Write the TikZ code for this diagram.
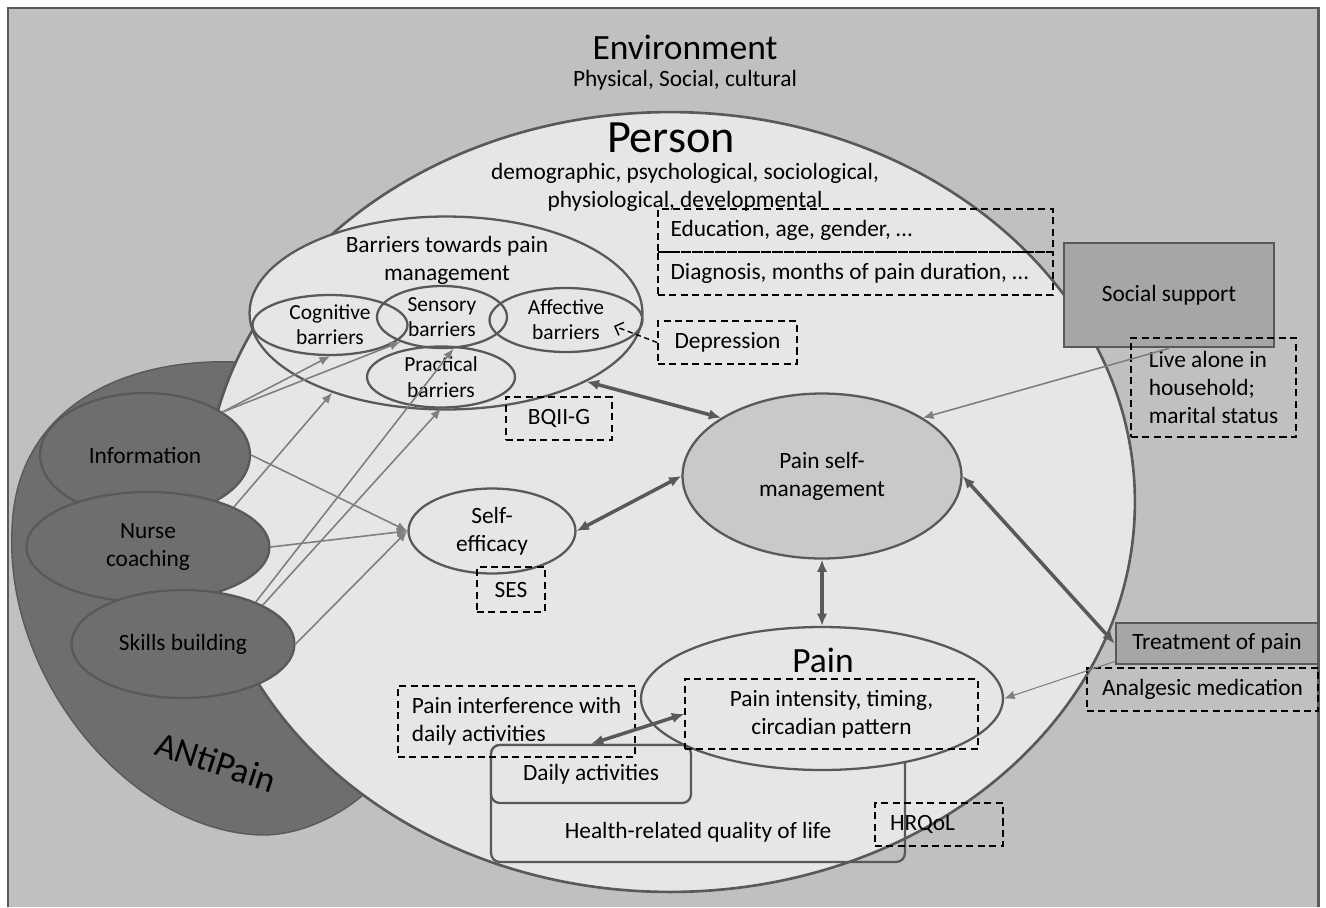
\documentclass[tikz,border=0pt]{standalone}
\usepackage{fontspec}
\setmainfont{Carlito}
\usepackage{xcolor}
\usepackage{tikz}
\usetikzlibrary{
  arrows.meta,
  positioning,
  shapes.geometric,
}

\definecolor{envgray}{HTML}{C0C0C0}
\definecolor{persongray}{HTML}{E6E6E6}
\definecolor{edgegray}{HTML}{595959}
\definecolor{antigray}{HTML}{6E6E6E}
\definecolor{psmgray}{HTML}{C9C9C9}
\definecolor{boxgray}{HTML}{A6A6A6}
\definecolor{arrowgray}{HTML}{7F7F7F}

\begin{document}
\begin{tikzpicture}[
  x=0.02cm, y=-0.02cm,
  font=\fontsize{13.3}{16}\selectfont,
  every node/.style={align=center},
  oval/.style={ellipse, draw=edgegray, line width=1.3pt, inner sep=0pt},
  dashbox/.style={draw=black, line width=0.9pt, dash pattern=on 4pt off 2.5pt, inner sep=0pt},
  solidbox/.style={draw=edgegray, line width=1.6pt, fill=boxgray, inner sep=0pt},
  roundbox/.style={draw=edgegray, line width=1.3pt, rounded corners=5pt, inner sep=0pt},
  thinarrow/.style={arrowgray, line width=0.9pt, -{Latex[length=6pt,width=5pt]}},
  bothway/.style={edgegray, line width=2pt, {Latex[length=7pt,width=6pt]}-{Latex[length=7pt,width=6pt]}},
  smallfont/.style={font=\fontsize{12.2}{14.4}\selectfont},
]

\fill[white] (0,0) rectangle (1326,907);
\useasboundingbox (0,0) rectangle (1326,907);
\fill[envgray] (8,8) rectangle (1318,907);
\draw[edgegray, line width=1.7pt] (8,907) -- (8,8) -- (1318,8) -- (1318,907);

\filldraw[fill=antigray, draw=edgegray, line width=0.8pt]
  (235,362) .. controls (120,358) and (15,410) .. (12,530)
  .. controls (5,680) and (130,830) .. (260,835)
  .. controls (300,836) and (340,815) .. (363,795) -- (450,500) -- cycle;

\node[oval, line width=1.5pt, fill=persongray, minimum width=18.6cm, minimum height=15.6cm] (person) at (670,502) {};

\node[font=\fontsize{20.2}{24}\selectfont] (env) at (685,47) {Environment};
\node (envsub) at (685,80) {Physical, Social, cultural};
\node[font=\fontsize{26.3}{30}\selectfont] (persontitle) at (671,138) {Person};
\node (personsub) at (685,187) {demographic, psychological, sociological,\\physiological, developmental};

\node[oval, fill=persongray, minimum width=7.86cm, minimum height=3.86cm] (barriers) at (446,313) {};
\node (barrierstitle) at (447,260) {Barriers towards pain\\management};
\node[oval, smallfont, minimum width=3.1cm, minimum height=1.2cm] (cognitive) at (330,325) {Cognitive\\barriers};
\node[oval, smallfont, minimum width=2.6cm, minimum height=1.24cm] (sensory) at (442,317) {Sensory\\barriers};
\node[oval, smallfont, minimum width=3.06cm, minimum height=1.28cm] (affective) at (566,320) {Affective\\barriers};
\node[oval, smallfont, minimum width=2.96cm, minimum height=1.22cm] (practical) at (441,377) {Practical\\barriers};
\coordinate (deptip) at (614,326);

\node[dashbox, minimum width=2.78cm, minimum height=0.86cm] (depression) at (727.5,342.5) {Depression};
\node[dashbox, inner xsep=0.25cm, text width=7.4cm, align=flush left, minimum height=0.86cm] (education) at (855.5,230.5) {Education, age, gender, \ldots};
\node[dashbox, inner xsep=0.25cm, text width=7.4cm, align=flush left, minimum height=0.86cm] (diagnosis) at (855.5,273.5) {Diagnosis, months of pain duration, \ldots};

\node[solidbox, minimum width=4.2cm, minimum height=2.08cm] (social) at (1169,295) {Social support};
\node[dashbox, align=left, minimum width=3.3cm, minimum height=1.98cm] (livealone) at (1213.5,387.5) {Live alone in\\household;\\marital status};

\node[dashbox, minimum width=2.12cm, minimum height=0.86cm] (bqii) at (559,418.5) {BQII-G};
\node[oval, fill=psmgray, minimum width=5.58cm, minimum height=3.3cm] (psm) at (822,476) {Pain self-\\management};
\node[oval, minimum width=3.34cm, minimum height=1.7cm] (selfeff) at (492,531) {Self-\\efficacy};
\node[dashbox, minimum width=1.36cm, minimum height=0.9cm] (ses) at (511,589.5) {SES};

\node[roundbox, minimum width=8.28cm, minimum height=2.34cm] (hrqol) at (698,803.5) {};
\node (hrqoltext) at (698,832) {Health-related quality of life};
\node[roundbox, fill=persongray, minimum width=4cm, minimum height=1.16cm] (daily) at (591,774) {Daily activities};
\node[dashbox, align=left, minimum width=4.74cm, minimum height=1.42cm] (interference) at (516.5,721.5) {Pain interference with\\daily activities};
\node[oval, fill=persongray, minimum width=7.24cm, minimum height=2.86cm] (pain) at (822,698.5) {};
\node[font=\fontsize{20.2}{24}\selectfont] (paintitle) at (823,660) {Pain};
\node[dashbox, minimum width=5.86cm, minimum height=1.4cm] (intensity) at (831.5,714) {Pain intensity, timing,\\circadian pattern};
\node[dashbox, inner xsep=0.3cm, text width=1.96cm, align=flush left, minimum height=0.86cm] (hrqolbox) at (939,824.5) {HRQoL};

\node[solidbox, minimum width=4.04cm, minimum height=0.82cm] (treatment) at (1217,643.5) {Treatment of pain};
\node[dashbox, minimum width=4.62cm, minimum height=0.86cm] (analgesic) at (1202.5,689.5) {Analgesic medication};

\node[oval, fill=antigray, minimum width=4.2cm, minimum height=2.48cm] (info) at (145,455) {Information};
\node[oval, fill=antigray, minimum width=4.86cm, minimum height=2.2cm] (nurse) at (148,547) {Nurse\\coaching};
\node[oval, fill=antigray, minimum width=4.46cm, minimum height=2.16cm] (skills) at (183,644) {Skills building};
\node[font=\fontsize{20.2}{24}\selectfont, rotate=-18] (antipain) at (216,762) {ANtiPain};

\draw[thinarrow] (info.29) -- (cognitive.south);
\draw[thinarrow] (info.29) -- (sensory.211);
\draw[thinarrow] (info.east) -- (selfeff.west);
\draw[thinarrow] (nurse.25) -- (barriers.215);
\draw[thinarrow] (nurse.east) -- (selfeff.west);
\draw[thinarrow] (skills.30) -- (sensory.290);
\draw[thinarrow] (skills.26) -- (practical.south);
\draw[thinarrow] (skills.east) -- (selfeff.west);
\draw[thinarrow] (social.south) -- (psm.30);
\draw[thinarrow, line width=0.6pt] (treatment.190) -- (pain.east);
\draw[black, line width=0.8pt, dash pattern=on 3pt off 2pt, -{Straight Barb[length=4pt,width=8pt]}] (depression.west) -- (deptip);

\draw[bothway] (barriers.334) -- (psm.150);
\draw[bothway] (selfeff.east) -- (psm.west);
\draw[bothway] (psm.south) -- (pain.north);
\draw[bothway] (treatment.west) -- (psm.east);
\draw[bothway] (daily.north) -- (intensity.west);

\end{tikzpicture}
\end{document}
